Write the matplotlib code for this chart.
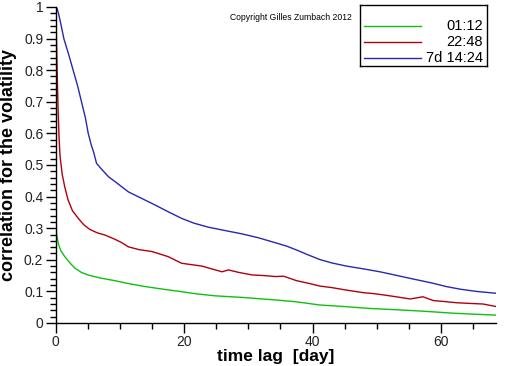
import matplotlib
matplotlib.use("Agg")
import matplotlib.pyplot as plt
from matplotlib.lines import Line2D
from matplotlib.ticker import MultipleLocator

plt.rcParams["font.family"] = ["Liberation Sans", "DejaVu Sans"]

# ── Data ──────────────────────────────────────────────────────────────────────
labels = ["01:12", "22:48", "7d 14:24"]
colors = ["#10c010", "#b00010", "#2828b0"]

green_x = [0, 0, 0.02, 0.1, 0.4, 0.8, 1.4, 2.2, 3.0, 4.0, 5.0, 7.0, 9.2, 11.0, 13.4,
           16.0, 19.6, 22.0, 24.8, 29.0, 34.2, 37.5, 41.1, 45.0, 48.9, 52.0,
           56.7, 59.0, 61.9, 65.0, 68.6]
green_y = [0.0, 0.62, 0.40, 0.285, 0.25, 0.228, 0.21, 0.19, 0.173, 0.16, 0.152,
           0.142, 0.134, 0.126, 0.117, 0.109, 0.099, 0.092, 0.086, 0.081, 0.073,
           0.067, 0.057, 0.052, 0.046, 0.043, 0.038, 0.035, 0.031, 0.028, 0.025]

red_x = [0, 0.05, 0.2, 0.35, 0.5, 0.65, 1.0, 1.4, 1.9, 2.6, 3.5, 4.4, 5.3, 6.5, 7.7,
         9.2, 10.2, 11.3, 13.0, 15.0, 17.5, 19.6, 21.0, 22.8, 24.5, 25.9, 26.9,
         28.5, 30.6, 32.5, 34.2, 35.5, 37.5, 39.5, 41.1, 43.0, 45.3, 47.9, 49.5,
         51.0, 53.0, 55.2, 57.2, 58.8, 60.5, 62.5, 64.5, 66.6, 68.6]
red_y = [1.0, 0.95, 0.80, 0.68, 0.59, 0.53, 0.47, 0.43, 0.39, 0.355, 0.331, 0.31,
         0.296, 0.285, 0.278, 0.265, 0.255, 0.241, 0.232, 0.226, 0.21, 0.189,
         0.185, 0.180, 0.170, 0.162, 0.168, 0.160, 0.152, 0.150, 0.147, 0.148,
         0.134, 0.125, 0.117, 0.112, 0.104, 0.096, 0.093, 0.089, 0.083, 0.076,
         0.083, 0.071, 0.068, 0.064, 0.062, 0.060, 0.052]

blue_x = [0, 0.2, 0.47, 0.85, 1.25, 2.0, 2.7, 3.4, 4.0, 4.6, 5.05, 5.5, 5.9, 6.35,
          7.2, 8.2, 9.7, 11.3, 13.4, 15.5, 17.5, 19.6, 21.5, 23.8, 26.5, 29.0,
          31.5, 34.2, 36.0, 37.5, 39.5, 41.1, 43.0, 45.3, 48.0, 50.5, 53.0, 55.7,
          58.5, 60.9, 63.0, 65.5, 68.6]
blue_y = [1.0, 0.995, 0.975, 0.94, 0.90, 0.85, 0.80, 0.75, 0.70, 0.65, 0.60, 0.565,
          0.54, 0.505, 0.485, 0.463, 0.44, 0.415, 0.394, 0.373, 0.352, 0.331,
          0.316, 0.303, 0.292, 0.282, 0.270, 0.254, 0.243, 0.231, 0.214, 0.201,
          0.190, 0.180, 0.171, 0.162, 0.151, 0.139, 0.127, 0.115, 0.107, 0.100,
          0.094]

series = [(green_x, green_y), (red_x, red_y), (blue_x, blue_y)]

# ── Figure ────────────────────────────────────────────────────────────────────
fig = plt.figure(figsize=(5.12, 3.66), dpi=100)
ax = fig.add_axes([0.109, 0.1175, 0.860, 0.8635])

for (xs, ys), c in zip(series, colors):
    ax.plot(xs, ys, color=c, linewidth=1.0)

ax.set_xlim(0, 68.6)
ax.set_ylim(0, 1.0)
ax.spines["top"].set_visible(False)
ax.spines["right"].set_visible(False)
for s in ("left", "bottom"):
    ax.spines[s].set_linewidth(1.0)

ax.xaxis.set_major_locator(MultipleLocator(20))
ax.xaxis.set_minor_locator(MultipleLocator(5))
ax.yaxis.set_major_locator(MultipleLocator(0.1))
ax.yaxis.set_minor_locator(MultipleLocator(0.02))
ax.yaxis.set_major_formatter(plt.FuncFormatter(lambda v, _: f"{v:g}"))
ax.tick_params(which="major", direction="out", length=7, width=1,
               labelsize=10, colors="black", labelcolor="#222222", pad=2)
ax.tick_params(which="minor", direction="out", length=4, width=1)

ax.set_xlabel("time lag  [day]", fontsize=12.5, fontweight="bold", labelpad=0)
ax.set_ylabel("correlation for the volatility", fontsize=13, fontweight="bold",
              labelpad=5)

ax.text(0.534, 0.968, "Copyright Gilles Zumbach 2012", transform=ax.transAxes,
        fontsize=6.2, va="center", ha="center")

# legend box drawn by hand so the labels can be right-aligned
lax = fig.add_axes([360 / 512, 1 - 66 / 366, 127 / 512, 61 / 366])
lax.set_xlim(0, 1)
lax.set_ylim(0, 1)
lax.set_xticks([])
lax.set_yticks([])
for s in lax.spines.values():
    s.set_linewidth(1.0)
for i, (lab, c) in enumerate(zip(labels, colors)):
    yy = 0.656 - i * 0.2625
    lax.add_line(Line2D([0.03, 0.48], [yy, yy], color=c, linewidth=1.0))
    lax.text(0.97, yy, lab, ha="right", va="center", fontsize=10.5)

fig.savefig("out.png", dpi=100)
